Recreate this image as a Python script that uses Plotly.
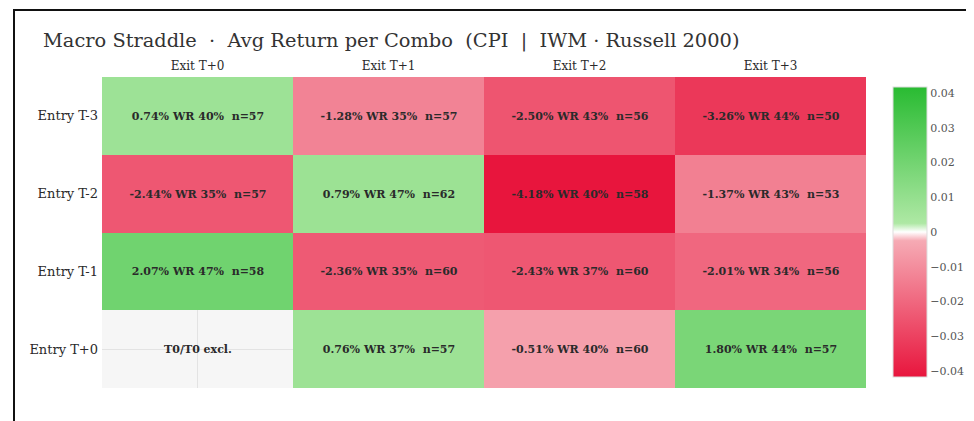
import plotly.graph_objects as go

rows = ["Entry T-3", "Entry T-2", "Entry T-1", "Entry T+0"]
cols = ["Exit T+0", "Exit T+1", "Exit T+2", "Exit T+3"]
ret_pct = [[0.74, -1.28, -2.50, -3.26],
           [-2.44, 0.79, -4.18, -1.37],
           [2.07, -2.36, -2.43, -2.01],
           [None, 0.76, -0.51, 1.80]]
win_rate = [[40, 35, 43, 44],
            [35, 47, 40, 43],
            [47, 35, 37, 34],
            [None, 37, 40, 44]]
n_obs = [[57, 57, 56, 50],
         [57, 62, 58, 53],
         [58, 60, 60, 56],
         [None, 57, 60, 57]]
excluded_label = "T0/T0 excl."
title = "Macro Straddle  ·  Avg Return per Combo  (CPI  |  IWM · Russell 2000)"

z = [[None if v is None else v / 100 for v in r] for r in ret_pct]
text = []
for i in range(len(rows)):
    row = []
    for j in range(len(cols)):
        if ret_pct[i][j] is None:
            row.append(excluded_label)
        else:
            row.append(f"{ret_pct[i][j]:.2f}% WR {win_rate[i][j]}%  n={n_obs[i][j]}")
    text.append(row)

zabs = max(abs(v) for r in z for v in r if v is not None)

FONT = "Georgia, 'DejaVu Serif', serif"

colorscale = [
    [0.0, "#e8153d"],
    [0.47, "#f6aab4"],
    [0.5, "#ffffff"],
    [0.53, "#aee8a4"],
    [1.0, "#29bb32"],
]

W, H = 966, 413
L, R, T, B = 94, 108, 69, 33
pw, ph = W - L - R, H - T - B

fig = go.Figure(go.Heatmap(
    z=z, x=cols, y=rows, text=text, texttemplate="%{text}",
    textfont=dict(family=FONT, size=11, color="#2a2a2a", weight="bold"),
    colorscale=colorscale, zmin=-zabs, zmax=zabs, zmid=0,
    colorbar=dict(
        x=(885 - L) / pw, xanchor="left", xpad=0, ypad=0,
        y=(H - B - (232 - 8)) / ph, yanchor="middle",
        thickness=34, len=290, lenmode="pixels",
        outlinewidth=1, outlinecolor="#dddddd",
        tickfont=dict(family=FONT, size=11, color="#555555"),
        tickvals=[-0.04, -0.03, -0.02, -0.01, 0, 0.01, 0.02, 0.03, 0.04],
        ticks="",
    ),
))

fig.update_layout(
    width=W, height=H,
    margin=dict(l=L, r=R, t=T, b=B, autoexpand=False),
    paper_bgcolor="white", plot_bgcolor="#f6f6f6",
    font=dict(family=FONT, color="#333333"),
    title=dict(text=title, x=35 / W, xanchor="left", y=1 - 32 / H, yanchor="middle",
               font=dict(family=FONT, size=19.4, color="#333333")),
    xaxis=dict(side="top", showgrid=True, gridcolor="#e3e3e3", zeroline=False,
               tickfont=dict(family=FONT, size=12, color="#2a2a2a"), ticks="", ticklabelstandoff=4),
    yaxis=dict(autorange="reversed", showgrid=True, gridcolor="#e3e3e3", zeroline=False,
               tickfont=dict(family=FONT, size=13, color="#2a2a2a"), ticks="", ticklabelstandoff=3),
    shapes=[dict(type="rect", xref="paper", yref="paper",
                 x0=(6 - L) / pw, x1=1.4, y0=-0.3, y1=(H - B - 2) / ph,
                 line=dict(color="#111111", width=2), fillcolor="rgba(0,0,0,0)", layer="above")],
)

fig.write_html("out.html")
